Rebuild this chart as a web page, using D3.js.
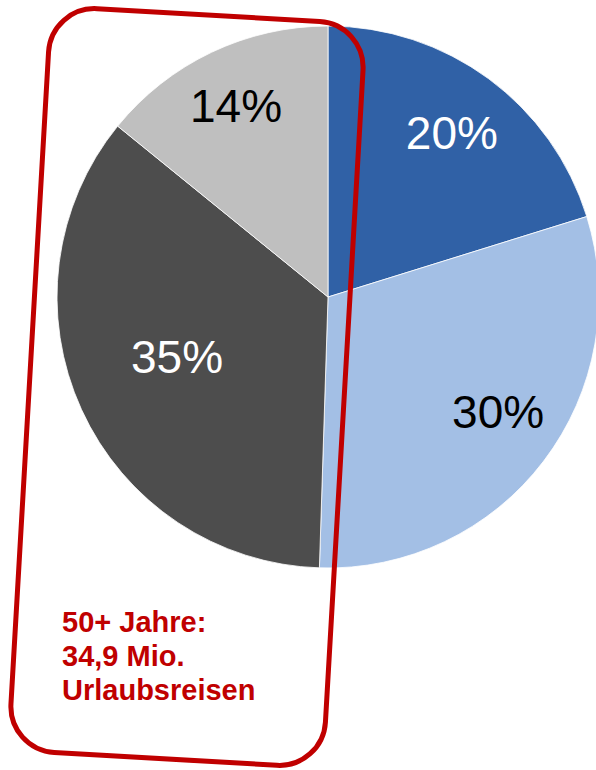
<!DOCTYPE html>
<html>
<head>
<meta charset="utf-8">
<script src="https://cdn.jsdelivr.net/npm/d3@7"></script>
<style>
  html, body { margin: 0; padding: 0; background: #fff; }
  svg { display: block; }
</style>
</head>
<body>
<div id="chart"></div>
<script>
// slices, clockwise from 12 o'clock
const labels = ['20%', '30%', '35%', '14%'];
const shares = [20, 30, 35, 14];
const colors = ['#3061A6', '#A3BFE5', '#4D4D4D', '#BFBFBF'];
const labelColors = ['#ffffff', '#000000', '#ffffff', '#000000'];
const noteLines = ['50+ Jahre:', '34,9 Mio.', 'Urlaubsreisen'];

const width = 596, height = 770;
const cx = 328, cy = 297, radius = 271;

const svg = d3.select('#chart').append('svg')
  .attr('width', width)
  .attr('height', height);

const pie = d3.pie().sort(null).value(d => d);
const arcs = pie(shares);
const arc = d3.arc().innerRadius(0).outerRadius(radius);

const g = svg.append('g').attr('transform', `translate(${cx},${cy})`);

g.selectAll('path.slice')
  .data(arcs)
  .join('path')
  .attr('class', 'slice')
  .attr('d', arc)
  .attr('fill', (d, i) => colors[i])
  .attr('stroke', '#fff')
  .attr('stroke-width', 0.8);

// label placement: distance as fraction of radius, and a small nudge off the mid angle (deg)
const labelR = [0.76, 0.757, 0.599, 0.784];
const labelTurn = [0.6, -3.3, 3, -0.2];
const fontSize = 46;

const labelPos = (d, i) => {
  const a = (d.startAngle + d.endAngle) / 2 + labelTurn[i] * Math.PI / 180;
  return [Math.sin(a) * radius * labelR[i], -Math.cos(a) * radius * labelR[i]];
};

g.selectAll('text.pct')
  .data(arcs)
  .join('text')
  .attr('class', 'pct')
  .attr('x', (d, i) => labelPos(d, i)[0])
  .attr('y', (d, i) => labelPos(d, i)[1] + fontSize * 0.358)
  .attr('text-anchor', 'middle')
  .attr('font-family', '"Liberation Sans", Arial, sans-serif')
  .attr('font-size', fontSize)
  .attr('fill', (d, i) => labelColors[i])
  .text((d, i) => labels[i]);

// tilted red frame round the 50+ slices
svg.append('rect')
  .attr('x', -157.5)
  .attr('y', -372.5)
  .attr('width', 315)
  .attr('height', 745)
  .attr('rx', 46)
  .attr('ry', 46)
  .attr('transform', 'translate(187,387) rotate(3.3)')
  .attr('fill', 'none')
  .attr('stroke', '#C00000')
  .attr('stroke-width', 5);

svg.append('text')
  .attr('x', 62)
  .attr('y', 632)
  .attr('font-family', '"Liberation Sans", Arial, sans-serif')
  .attr('font-size', 29)
  .attr('font-weight', 'bold')
  .attr('fill', '#C00000')
  .selectAll('tspan')
  .data(noteLines)
  .join('tspan')
  .attr('x', 62)
  .attr('dy', (d, i) => i === 0 ? 0 : 34)
  .text(d => d);
</script>
</body>
</html>
